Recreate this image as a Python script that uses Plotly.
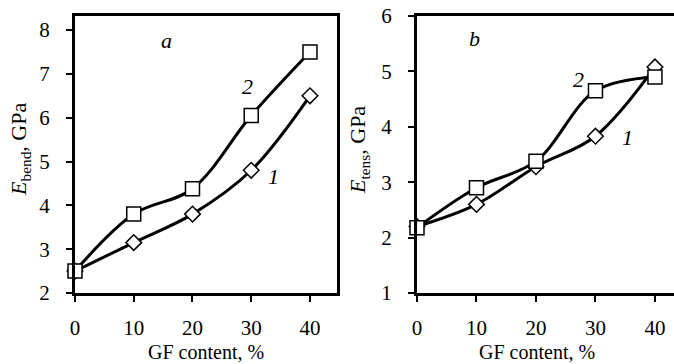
import plotly.graph_objects as go

gf = [0, 10, 20, 30, 40]
bend_1 = [2.5, 3.15, 3.8, 4.8, 6.5]
bend_2 = [2.5, 3.8, 4.38, 6.05, 7.5]
tens_1 = [2.2, 2.6, 3.28, 3.83, 5.08]
tens_2 = [2.18, 2.9, 3.38, 4.65, 4.9]

FONT = "Liberation Serif"
W, H = 674, 364

fig = go.Figure()

def add_series(x, y, symbol, size, xa, ya):
    fig.add_trace(go.Scatter(
        x=x, y=y, mode="lines+markers", xaxis=xa, yaxis=ya,
        line=dict(color="black", width=3, shape="spline", smoothing=1.0),
        marker=dict(symbol=symbol, size=size, color="white",
                    line=dict(color="black", width=1.5)),
        showlegend=False, cliponaxis=False, hoverinfo="skip"))

add_series(gf, bend_1, "diamond", 12, "x", "y")
add_series(gf, bend_2, "square", 14, "x", "y")
add_series(gf, tens_1, "diamond", 12, "x2", "y2")
add_series(gf, tens_2, "square", 14, "x2", "y2")

axis_common = dict(showgrid=False, zeroline=False, showline=True, linecolor="black",
                   linewidth=3, ticks="outside", ticklen=6, tickwidth=2, tickcolor="black",
                   automargin=False,
                   tickfont=dict(family=FONT, size=21, color="black"))

fig.update_layout(
    width=W, height=H, margin=dict(l=0, r=0, t=0, b=0, pad=0),
    paper_bgcolor="white", plot_bgcolor="white",
    font=dict(family=FONT, color="black"),
    xaxis=dict(domain=[75 / W, 337 / W], range=[0, 44.6], tickvals=[0, 10, 20, 30, 40],
               mirror=True, anchor="y", ticklabelstandoff=8, **axis_common),
    yaxis=dict(domain=[71 / H, 348 / H], range=[2, 8.32], tickvals=[2, 3, 4, 5, 6, 7, 8],
               mirror=True, anchor="x", ticklabelstandoff=12, **axis_common),
    xaxis2=dict(domain=[417 / W, 1.0], range=[0, 43.2], tickvals=[0, 10, 20, 30, 40],
                mirror=True, anchor="y2", ticklabelstandoff=8, **axis_common),
    yaxis2=dict(domain=[71 / H, 348 / H], range=[1, 6], tickvals=[1, 2, 3, 4, 5, 6],
                mirror=False, anchor="x2", ticklabelstandoff=12, **axis_common),
)

# axis titles
for xp, txt in [(20, "<i>E</i><sub>bend</sub>, GPa"), (359, "<i>E</i><sub>tens</sub>, GPa")]:
    fig.add_annotation(x=xp / W, y=1 - 150 / H, xref="paper", yref="paper", text=txt,
                       textangle=-90, showarrow=False, xanchor="center", yanchor="middle",
                       font=dict(family=FONT, size=22, color="black"))
for xp in [(75 + 337) / 2 / W, (417 + 656) / 2 / W]:
    fig.add_annotation(x=xp, y=0, xref="paper", yref="paper", text="GF content, %",
                       showarrow=False, xanchor="center", yanchor="bottom", borderpad=0,
                       font=dict(family=FONT, size=20, color="black"))

labels = [
    ("x", "y", 15.5, 7.77, "a"),
    ("x", "y", 29.3, 6.7, "2"),
    ("x", "y", 33.8, 4.65, "1"),
    ("x2", "y2", 9.6, 5.6, "b"),
    ("x2", "y2", 27.2, 4.85, "2"),
    ("x2", "y2", 35.3, 3.8, "1"),
]
for xa, ya, x, y, t in labels:
    fig.add_annotation(x=x, y=y, xref=xa, yref=ya, text=f"<i>{t}</i>", showarrow=False,
                       font=dict(family=FONT, size=22, color="black"))

fig.write_html("out.html", config={"displayModeBar": False, "staticPlot": True},
               post_script="document.body.style.margin='0';document.body.style.overflow='hidden';")
